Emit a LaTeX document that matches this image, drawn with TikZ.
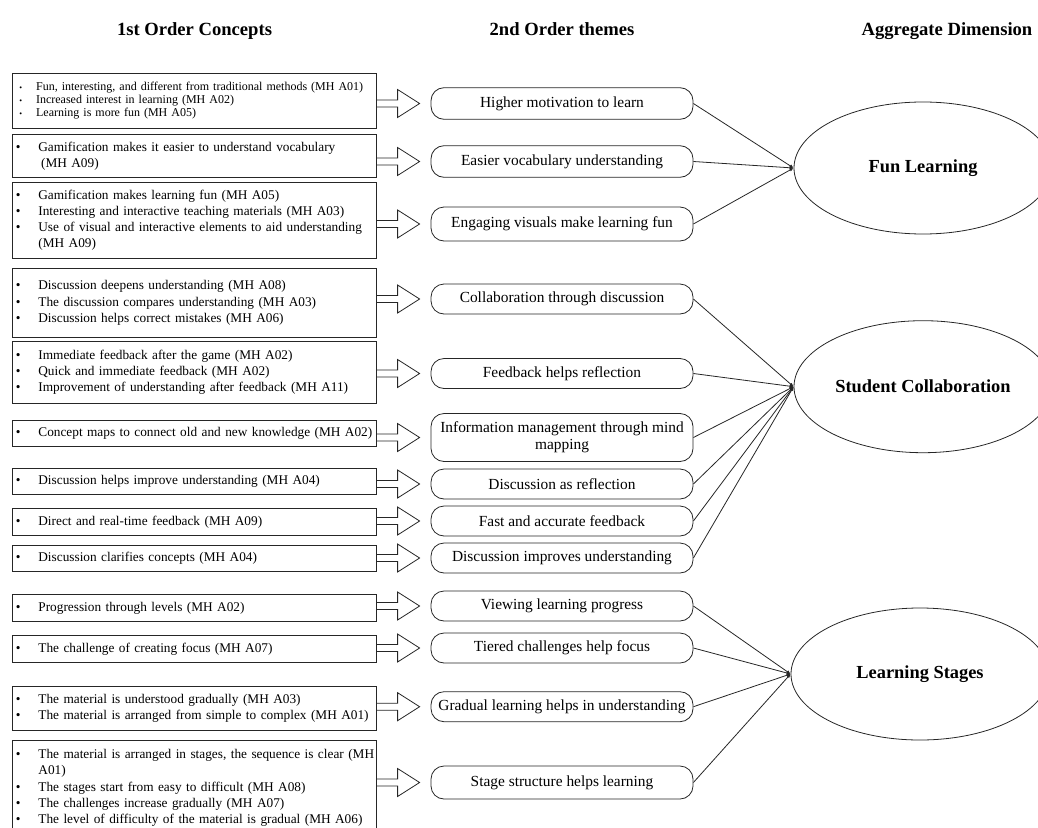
\documentclass[tikz,border=0pt]{standalone}
\usepackage{fontspec}
\setmainfont{Liberation Serif}
\usetikzlibrary{shapes.geometric,arrows.meta,calc}
\newcommand\bul{\makebox[23pt][l]{\hspace{0.5pt}•}}
\newcommand\sbul{\makebox[20.7pt][l]{\hspace{4pt}{\fontsize{8}{8}\selectfont•}}}
\newcommand\citem[1]{\mbox{\bul #1}}
\newcommand\sitem[1]{\mbox{\sbul #1}}
\newcommand\cont[2]{\mbox{\hspace*{#1}#2}}
\newcommand\farrow[2]{%
  \draw[arrowline] let \p1=(#1.east), \p2=(#2.west) in
    (\x1,\y2+3.5pt) -- (\x2-33pt,\y2+3.5pt) -- (\x2-33pt,\y2+14pt) -- (\x2-11pt,\y2)
    -- (\x2-33pt,\y2-14pt) -- (\x2-33pt,\y2-3.5pt) -- (\x1,\y2-3.5pt);}
\begin{document}
\begin{tikzpicture}[x=1pt,y=-1pt,
  line/.style={draw=black!85, line width=0.8pt},
  arrowline/.style={line, line join=miter},
  concept/.style={line, anchor=north west, text width=358pt, inner xsep=3pt, inner ysep=0pt,
    align=left, font=\fontsize{13.3}{16.2}\selectfont},
  theme/.style={line, rounded corners=13pt, minimum width=262pt, minimum height=30pt,
    inner sep=0pt, align=center, font=\fontsize{15.4}{17}\selectfont},
  dimension/.style={line, ellipse, minimum width=258pt, minimum height=132pt, inner sep=0pt,
    font=\fontsize{18.4}{22}\selectfont\bfseries},
  heading/.style={anchor=base, font=\fontsize{18.6}{22}\selectfont\bfseries},
  conn/.style={line, -{Latex[length=4pt,width=3.5pt]}}
]
\useasboundingbox (0,0) rectangle (1038,827);
\clip (0,0) rectangle (1038,827);

% headings
\node[heading] (h1) at (194.5,35) {1st Order Concepts};
\node[heading] (h2) at (562,35) {2nd Order themes};
\node[heading] (h3) at (947,35) {Aggregate Dimension};

% first-order concept boxes
\node[concept, minimum height=55pt, font=\fontsize{12.0}{13.2}\selectfont] (c1) at (12,72.7)
  {\sitem{Fun, interesting, and different from traditional methods (MH A01)}\\
   \sitem{Increased interest in learning (MH A02)}\\
   \sitem{Learning is more fun (MH A05)}};
\node[concept, minimum height=43.3pt] (c2) at (12,134)
  {\citem{Gamification makes it easier to understand vocabulary}\\
   \cont{25.7pt}{(MH A09)}};
\node[concept, minimum height=76.3pt] (c3) at (12,181.7)
  {\citem{Gamification makes learning fun (MH A05)}\\
   \citem{Interesting and interactive teaching materials (MH A03)}\\
   \citem{Use of visual and interactive elements to aid understanding}\\
   \cont{23pt}{(MH A09)}};
\node[concept, minimum height=68.4pt] (c4) at (12,268.3)
  {\citem{Discussion deepens understanding (MH A08)}\\
   \citem{The discussion compares understanding (MH A03)}\\
   \citem{Discussion helps correct mistakes (MH A06)}};
\node[concept, minimum height=61.7pt] (c5) at (12,341)
  {\citem{Immediate feedback after the game (MH A02)}\\
   \citem{Quick and immediate feedback (MH A02)}\\
   \citem{Improvement of understanding after feedback (MH A11)}};
\node[concept, minimum height=26pt] (c6) at (12,420)
  {\citem{Concept maps to connect old and new knowledge (MH A02)}};
\node[concept, minimum height=26pt] (c7) at (12,468.3)
  {\citem{Discussion helps improve understanding (MH A04)}};
\node[concept, minimum height=26.7pt] (c8) at (12,508.3)
  {\citem{Direct and real-time feedback (MH A09)}};
\node[concept, minimum height=26pt] (c9) at (12,545)
  {\citem{Discussion clarifies concepts (MH A04)}};
\node[concept, minimum height=26.7pt] (c10) at (12,594.3)
  {\citem{Progression through levels (MH A02)}};
\node[concept, minimum height=27pt] (c11) at (12,635)
  {\citem{The challenge of creating focus (MH A07)}};
\node[concept, minimum height=44pt] (c12) at (12,686)
  {\citem{The material is understood gradually (MH A03)}\\
   \citem{The material is arranged from simple to complex (MH A01)}};
\node[concept, inner ysep=9pt] (c13) at (12,740)
  {\citem{The material is arranged in stages, the sequence is clear (MH}\\
   \cont{23pt}{A01)}\\
   \citem{The stages start from easy to difficult (MH A08)}\\
   \citem{The challenges increase gradually (MH A07)}\\
   \citem{The level of difficulty of the material is gradual (MH A06)}};

% second-order themes
\node[theme, minimum height=31.6pt] (t1) at (562,103.5) {Higher motivation to learn};
\node[theme, minimum height=31.6pt] (t2) at (562,161.5) {Easier vocabulary understanding};
\node[theme, minimum height=34pt] (t3) at (562,224) {Engaging visuals make learning fun};
\node[theme] (t4) at (562,299) {Collaboration through discussion};
\node[theme] (t5) at (562,373.5) {Feedback helps reflection};
\node[theme, minimum height=48pt] (t6) at (562,437.5) {Information management through mind\\mapping};
\node[theme] (t7) at (562,484) {Discussion as reflection};
\node[theme] (t8) at (562,521) {Fast and accurate feedback};
\node[theme] (t9) at (562,558) {Discussion improves understanding};
\node[theme] (t10) at (562,606) {Viewing learning progress};
\node[theme] (t11) at (562,648) {Tiered challenges help focus};
\node[theme] (t12) at (562,706.7) {Gradual learning helps in understanding};
\node[theme, minimum height=33pt] (t13) at (562,782.5) {Stage structure helps learning};

% aggregate dimensions
\node[dimension] (d1) at (923,168) {Fun Learning};
\node[dimension] (d2) at (923,386.7) {Student Collaboration};
\node[dimension] (d3) at (920,674) {Learning Stages};

% double-line arrows
\foreach \i in {1,...,13} {\farrow{c\i}{t\i}}

% connectors
\foreach \i in {1,2,3} {\draw[conn] (t\i.east) -- (d1.west);}
\foreach \i in {4,...,9} {\draw[conn] (t\i.east) -- (d2.west);}
\foreach \i in {10,...,13} {\draw[conn] (t\i.east) -- (d3.west);}
\end{tikzpicture}
\end{document}
